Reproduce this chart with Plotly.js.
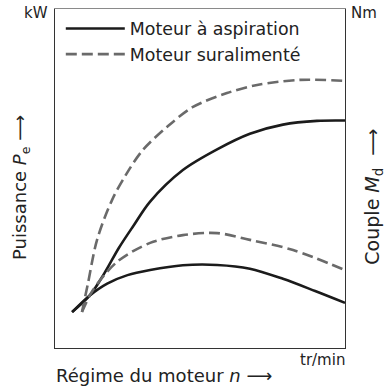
<!DOCTYPE html>
<html>
<head>
<meta charset="utf-8">
<script src="https://cdn.plot.ly/plotly-3.0.1.min.js"></script>
<style>
  html, body { margin: 0; padding: 0; background: #fff; }
  #chart { width: 386px; height: 386px; }
</style>
</head>
<body>
<div id="chart"></div>
<script>
// Engine speed n in % of the plotted range, power and torque in % of the axis height
const speedPowerNA    = [5.9, 12.0, 17.0, 22.0, 27.0, 32.8, 44.1, 55.9, 67.2, 78.6, 90.3, 100];
const powerNA         = [10.6, 15.5, 22.0, 29.5, 36.0, 43.2, 52.5, 58.6, 63.2, 65.9, 67.0, 67.1];

const speedPowerTurbo = [9.3, 11.4, 14.5, 19.7, 24.8, 30.3, 38.6, 47.6, 59.3, 69.7, 84.5, 100];
const powerTurbo      = [10.6, 19.2, 31.9, 43.7, 51.6, 58.4, 65.2, 71.1, 75.2, 77.6, 79.1, 78.8];

const speedTorqueNA   = [5.9, 12.0, 18.0, 25.0, 32.8, 44.1, 55.9, 67.2, 78.6, 89.7, 100];
const torqueNA        = [10.6, 15.5, 19.0, 21.5, 23.0, 24.4, 24.5, 23.4, 20.4, 16.8, 13.3];

const speedTorqueTurbo = [9.3, 13.1, 21.4, 32.8, 44.1, 55.9, 67.2, 82.1, 100];
const torqueTurbo      = [10.6, 17.1, 25.4, 31.0, 33.3, 33.9, 31.9, 28.9, 23.0];

const seriesNames = ['Moteur à aspiration', 'Moteur suralimenté'];

const solid = { color: '#1b1b1b', width: 2.6, shape: 'spline', smoothing: 0.9 };
const dashed = { color: '#6a6a6a', width: 2.6, shape: 'spline', smoothing: 0.9, dash: '11px,5px' };

const traces = [
  { x: speedPowerNA, y: powerNA, name: seriesNames[0], mode: 'lines', line: solid, legendrank: 1 },
  { x: speedPowerTurbo, y: powerTurbo, name: seriesNames[1], mode: 'lines', line: dashed, legendrank: 2 },
  { x: speedTorqueNA, y: torqueNA, yaxis: 'y2', mode: 'lines', line: solid, showlegend: false },
  { x: speedTorqueTurbo, y: torqueTurbo, yaxis: 'y2', mode: 'lines', line: dashed, showlegend: false },
  // empty trace on the top axis so its border line is drawn
  { x: [], y: [], xaxis: 'x2', showlegend: false, hoverinfo: 'skip' }
];

const labelFont = { family: 'DejaVu Sans', size: 18, color: '#222' };
const unitFont = { family: 'DejaVu Sans', size: 15, color: '#222' };

const layout = {
  width: 386, height: 386,
  margin: { l: 55, r: 41, t: 9, b: 38 },
  paper_bgcolor: '#fff', plot_bgcolor: '#fff',
  showlegend: true,
  legend: {
    x: 0.02, y: 0.995, xanchor: 'left', yanchor: 'top',
    bgcolor: 'rgba(0,0,0,0)', borderwidth: 0,
    itemwidth: 59, tracegroupgap: 0,
    font: { family: 'DejaVu Sans', size: 17.4, color: '#222' }
  },
  xaxis: {
    range: [0, 100], showgrid: false, zeroline: false, showticklabels: false, ticks: '',
    showline: true, linecolor: '#333', linewidth: 1.2
  },
  xaxis2: {
    range: [0, 100], overlaying: 'x', side: 'top', showgrid: false, zeroline: false,
    showticklabels: false, ticks: '', showline: true, linecolor: '#8a8a8a', linewidth: 1.2
  },
  yaxis: {
    range: [0, 100], showgrid: false, zeroline: false, showticklabels: false, ticks: '',
    showline: true, linecolor: '#333', linewidth: 1.2
  },
  yaxis2: {
    range: [0, 100], overlaying: 'y', side: 'right', showgrid: false, zeroline: false,
    showticklabels: false, ticks: '', showline: true, linecolor: '#333', linewidth: 1.2
  },
  annotations: [
    { text: 'kW', xref: 'paper', yref: 'paper', x: 0, y: 1, xanchor: 'right', yanchor: 'middle',
      xshift: -5, yshift: -4, showarrow: false, font: unitFont },
    { text: 'Nm', xref: 'paper', yref: 'paper', x: 1, y: 1, xanchor: 'left', yanchor: 'middle',
      xshift: 4, yshift: -4, showarrow: false, font: unitFont },
    { text: 'tr/min', xref: 'paper', yref: 'paper', x: 1, y: 0, xanchor: 'right', yanchor: 'top',
      xshift: 2, yshift: -1, showarrow: false, font: unitFont },
    { text: 'Régime du moteur <i>n</i> ⟶', xref: 'paper', yref: 'paper', x: 0, y: 0,
      xanchor: 'left', yanchor: 'top', xshift: -1, yshift: -15, showarrow: false, font: labelFont },
    { text: 'Puissance <i>P</i><sub>e</sub> ⟶', xref: 'paper', yref: 'paper', x: 0, y: 0.475,
      xanchor: 'right', yanchor: 'middle', xshift: -20, textangle: -90, showarrow: false, font: labelFont },
    { text: 'Couple <i>M</i><sub>d</sub>\u00a0 ⟶', xref: 'paper', yref: 'paper', x: 1, y: 0.445,
      xanchor: 'left', yanchor: 'middle', xshift: 14, textangle: -90, showarrow: false,
      font: { family: 'DejaVu Sans', size: 19, color: '#222' } }
  ]
};

Plotly.newPlot('chart', traces, layout, { staticPlot: true, displayModeBar: false });
</script>
</body>
</html>
